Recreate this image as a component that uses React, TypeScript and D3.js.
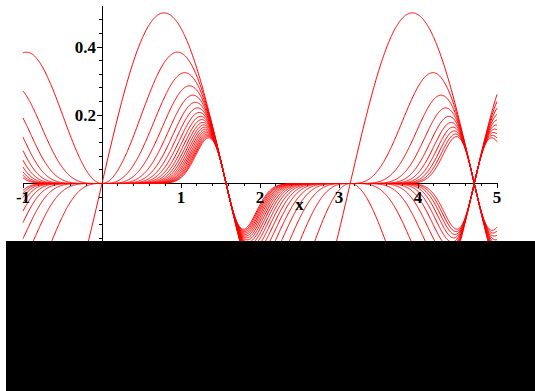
import React, { useMemo } from "react";
import * as d3 from "d3";

// family of curves sin(x)^n * cos(x), one per exponent
const exponents = [1, 2, 3, 4, 5, 6, 7, 8, 9, 10, 11, 12, 13, 14, 15, 16, 17, 18, 19, 20];
const xDomain = [-1, 5];
const xMajorTicks = [-1, 1, 2, 3, 4, 5];
const yMajorTicks = [0.2, 0.4];
const xAxisLabel = "x";

const W = 535;
const H = 391;
const SAMPLES = 900;

export default function App() {
  // ===== scales =====
  const x = d3.scaleLinear().domain(xDomain).range([23, 497]);
  const y = d3.scaleLinear().domain([0, 0.4]).range([183.5, 47]);

  const x0 = x(0);
  const y0 = y(0);

  // ===== curves =====
  const paths = useMemo(() => {
    const xs = d3.range(SAMPLES + 1).map(
      (i) => xDomain[0] + ((xDomain[1] - xDomain[0]) * i) / SAMPLES
    );
    return exponents.map((n) => {
      const gen = d3
        .line<number>()
        .x((d) => x(d))
        .y((d) => y(Math.pow(Math.sin(d), n) * Math.cos(d)));
      return gen(xs) || "";
    });
  }, []);

  // minor ticks
  const xMinor = d3.range(-1, 5.0001, 0.2).filter(
    (v) => !xMajorTicks.some((t) => Math.abs(t - v) < 1e-6) && Math.abs(v) > 1e-6
  );
  const yMinor = d3.range(-0.2, 0.52, 0.04).filter(
    (v) => !yMajorTicks.some((t) => Math.abs(t - v) < 1e-6) && Math.abs(v) > 1e-6
  );

  const font = "'Liberation Serif', 'Times New Roman', serif";

  return (
    <svg
      width={W}
      height={H}
      style={{ position: "absolute", left: 0, top: 0, background: "#fff" }}
    >
      {/* axes */}
      <g stroke="#000" strokeWidth={1} shapeRendering="crispEdges">
        <line x1={x(xDomain[0])} x2={x(xDomain[1])} y1={y0} y2={y0} />
        <line x1={x0} x2={x0} y1={6} y2={H} />
        {xMajorTicks.map((t) => (
          <line key={"xm" + t} x1={x(t)} x2={x(t)} y1={y0 - 1} y2={y0 + 4} />
        ))}
        {xMinor.map((t, i) => (
          <line key={"xn" + i} x1={x(t)} x2={x(t)} y1={y0} y2={y0 + 2.5} />
        ))}
        {yMajorTicks.map((t) => (
          <line key={"ym" + t} x1={x0 - 5} x2={x0} y1={y(t)} y2={y(t)} />
        ))}
        {yMinor.map((t, i) => (
          <line key={"yn" + i} x1={x0 - 3} x2={x0} y1={y(t)} y2={y(t)} />
        ))}
      </g>

      {/* curves */}
      <g fill="none" stroke="#ff0000" strokeWidth={1}>
        {paths.map((d, i) => (
          <path key={i} d={d} />
        ))}
      </g>

      {/* labels */}
      <g fontFamily={font} fontWeight="bold" fontSize={17} fill="#000">
        {xMajorTicks.map((t) => (
          <text key={"xl" + t} x={x(t)} y={203} textAnchor="middle">
            {t < 0 ? "-" + Math.abs(t) : String(t)}
          </text>
        ))}
        {yMajorTicks.map((t) => (
          <text
            key={"yl" + t}
            x={x0 - 6}
            y={y(t)}
            textAnchor="end"
            dominantBaseline="central"
          >
            {t.toFixed(1)}
          </text>
        ))}
        <text x={x(2.5)} y={210} textAnchor="middle">
          {xAxisLabel}
        </text>
      </g>

      {/* black block covering lower part */}
      <rect x={6} y={241} width={W - 6} height={H - 241} fill="#000" />
    </svg>
  );
}
